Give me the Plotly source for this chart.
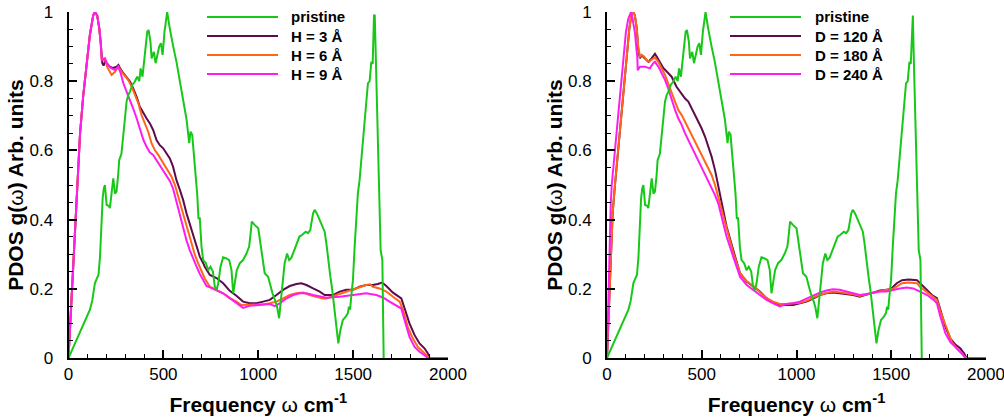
import plotly.graph_objects as go

# ---------------- data ----------------
pristine_f = [0, 20, 40, 60, 80, 100, 113, 125, 135, 139, 148, 158, 166, 172, 180, 186, 192, 201, 212, 218,
              226, 236, 245, 253, 262, 267, 279, 289, 297, 306, 315, 324, 337, 350, 362, 373, 380, 390, 397,
              403, 415, 422, 432, 438, 450, 459, 468, 478, 487, 496, 506, 520, 534, 544, 552, 569, 587, 604,
              622, 636, 643, 652, 666, 678, 685, 692, 701, 710, 724, 736, 748, 761, 771, 780, 789, 801, 815,
              832, 847, 859, 868, 877, 887, 903, 920, 938, 952, 959, 966, 982, 1000, 1009, 1022, 1034, 1052,
              1061, 1075, 1088, 1099, 1110, 1119, 1127, 1139, 1152, 1163, 1175, 1190, 1204, 1217, 1232, 1250,
              1262, 1274, 1289, 1297, 1309, 1323, 1337, 1350, 1359, 1367, 1373, 1380, 1390, 1399, 1411, 1422,
              1433, 1446, 1460, 1472, 1478, 1484, 1490, 1499, 1508, 1517, 1525, 1534, 1547, 1561, 1578, 1587,
              1596, 1603, 1610, 1614, 1620, 1627, 1636, 1645, 1654, 1657, 1661]
pristine_g = [0, 0.025, 0.05, 0.075, 0.1, 0.125, 0.14, 0.165, 0.2, 0.216, 0.228, 0.24, 0.292, 0.38, 0.462,
              0.49, 0.5, 0.442, 0.44, 0.433, 0.48, 0.519, 0.475, 0.481, 0.53, 0.572, 0.59, 0.66, 0.69, 0.741,
              0.76, 0.77, 0.79, 0.799, 0.813, 0.8, 0.837, 0.813, 0.85, 0.885, 0.943, 0.948, 0.914, 0.866, 0.885,
              0.852, 0.88, 0.9, 0.91, 0.876, 0.943, 1.0, 0.952, 0.92, 0.9, 0.856, 0.803, 0.746, 0.69, 0.621,
              0.654, 0.645, 0.565, 0.476, 0.404, 0.404, 0.322, 0.283, 0.274, 0.254, 0.264, 0.25, 0.206, 0.196,
              0.215, 0.264, 0.291, 0.288, 0.283, 0.254, 0.187, 0.215, 0.254, 0.274, 0.283, 0.302, 0.322, 0.356,
              0.394, 0.384, 0.375, 0.341, 0.283, 0.245, 0.235, 0.216, 0.187, 0.168, 0.148, 0.115, 0.168, 0.225,
              0.274, 0.302, 0.283, 0.29, 0.31, 0.331, 0.351, 0.356, 0.365, 0.361, 0.37, 0.418, 0.428, 0.418,
              0.399, 0.38, 0.365, 0.331, 0.29, 0.274, 0.235, 0.197, 0.148, 0.09, 0.042, 0.081, 0.11, 0.119,
              0.129, 0.148, 0.14, 0.177, 0.225, 0.322, 0.418, 0.476, 0.514, 0.6, 0.697, 0.794, 0.8, 0.856,
              0.85, 0.99, 0.99, 0.843, 0.697, 0.514, 0.312, 0.283, 0.129, 0.0]

# left panel : layer height H
h3_f = [0, 10, 20, 30, 43, 61, 78, 96, 113, 130, 139, 151, 162, 170, 178, 185, 192, 200, 210, 218, 235, 254,
        263, 272, 289, 307, 324, 341, 359, 376, 395, 411, 429, 446, 464, 481, 499, 516, 534, 551, 569, 587,
        604, 622, 640, 657, 675, 692, 710, 718, 745, 780, 815, 850, 885, 920, 955, 990, 1026, 1061, 1096,
        1131, 1166, 1201, 1227, 1254, 1289, 1324, 1350, 1394, 1429, 1464, 1499, 1534, 1569, 1604, 1630, 1653,
        1675, 1710, 1754, 1771, 1797, 1824, 1850, 1876, 1894, 1903, 2000]
h3_g = [0, 0.11, 0.23, 0.35, 0.49, 0.65, 0.76, 0.86, 0.935, 0.99, 1.0, 0.99, 0.953, 0.91, 0.852, 0.845, 0.856,
        0.852, 0.845, 0.842, 0.838, 0.842, 0.847, 0.837, 0.823, 0.811, 0.799, 0.779, 0.755, 0.726, 0.707,
        0.693, 0.678, 0.659, 0.63, 0.615, 0.606, 0.591, 0.577, 0.553, 0.514, 0.486, 0.457, 0.418, 0.385,
        0.351, 0.32, 0.293, 0.274, 0.264, 0.24, 0.231, 0.216, 0.194, 0.18, 0.163, 0.158, 0.158, 0.163, 0.168,
        0.182, 0.197, 0.208, 0.214, 0.216, 0.211, 0.201, 0.192, 0.182, 0.182, 0.192, 0.197, 0.197, 0.206,
        0.211, 0.211, 0.214, 0.218, 0.208, 0.189, 0.172, 0.143, 0.1, 0.066, 0.042, 0.028, 0.013, 0.0, 0.0]

h6_f = [0, 10, 20, 30, 43, 61, 78, 96, 113, 130, 139, 151, 162, 170, 175, 182, 192, 205, 218, 227, 245, 262,
        280, 298, 315, 333, 351, 368, 385, 404, 420, 438, 455, 473, 490, 508, 526, 543, 561, 578, 596, 613,
        630, 648, 665, 683, 700, 718, 745, 780, 815, 850, 885, 911, 935, 955, 990, 1026, 1061, 1096, 1131,
        1166, 1201, 1236, 1271, 1306, 1341, 1359, 1411, 1464, 1499, 1534, 1569, 1590, 1604, 1639, 1675, 1710,
        1745, 1763, 1788, 1815, 1841, 1868, 1894, 1900, 2000]
h6_g = [0, 0.11, 0.23, 0.35, 0.49, 0.65, 0.76, 0.86, 0.935, 0.99, 1.0, 0.99, 0.955, 0.91, 0.861, 0.866, 0.862,
        0.84, 0.825, 0.818, 0.827, 0.842, 0.827, 0.813, 0.803, 0.784, 0.76, 0.736, 0.702, 0.678, 0.654, 0.62,
        0.601, 0.587, 0.572, 0.558, 0.543, 0.524, 0.5, 0.466, 0.433, 0.399, 0.365, 0.331, 0.3, 0.274, 0.25,
        0.23, 0.206, 0.196, 0.187, 0.173, 0.163, 0.153, 0.153, 0.155, 0.155, 0.155, 0.158, 0.163, 0.172,
        0.182, 0.187, 0.189, 0.182, 0.177, 0.172, 0.172, 0.182, 0.192, 0.197, 0.206, 0.211, 0.213, 0.206,
        0.201, 0.192, 0.177, 0.163, 0.139, 0.09, 0.056, 0.032, 0.018, 0.004, 0.0, 0.0]

h9_f = [0, 10, 20, 30, 43, 61, 78, 96, 113, 130, 139, 151, 162, 170, 175, 185, 192, 205, 218, 227, 245, 262,
        275, 289, 307, 324, 341, 359, 376, 395, 411, 429, 446, 464, 481, 499, 516, 534, 551, 569, 586, 604,
        622, 639, 657, 675, 692, 710, 727, 745, 780, 815, 850, 885, 920, 955, 990, 1026, 1061, 1087, 1113,
        1148, 1184, 1219, 1254, 1289, 1324, 1359, 1429, 1499, 1569, 1622, 1657, 1692, 1727, 1754, 1771, 1797,
        1824, 1850, 1876, 1894, 2000]
h9_g = [0, 0.11, 0.23, 0.35, 0.49, 0.65, 0.76, 0.86, 0.935, 0.99, 1.0, 0.99, 0.955, 0.91, 0.862, 0.862, 0.866,
        0.85, 0.84, 0.837, 0.832, 0.842, 0.823, 0.794, 0.77, 0.746, 0.721, 0.693, 0.664, 0.63, 0.611, 0.594,
        0.587, 0.572, 0.558, 0.543, 0.529, 0.512, 0.49, 0.452, 0.41, 0.37, 0.34, 0.312, 0.285, 0.264, 0.243,
        0.225, 0.208, 0.204, 0.196, 0.187, 0.173, 0.158, 0.145, 0.151, 0.153, 0.155, 0.156, 0.15, 0.158,
        0.172, 0.182, 0.187, 0.187, 0.182, 0.177, 0.174, 0.177, 0.182, 0.187, 0.182, 0.175, 0.163, 0.151,
        0.143, 0.11, 0.061, 0.032, 0.018, 0.008, 0.0, 0.0]

# right panel : diameter D
d120_f = [0, 10, 20, 30, 42, 55, 68, 82, 95, 107, 118, 130, 139, 147, 157, 165, 174, 183, 200, 218, 235, 253,
          262, 280, 297, 315, 341, 367, 385, 412, 429, 447, 464, 482, 499, 517, 535, 552, 570, 587, 605, 631,
          666, 702, 737, 772, 807, 842, 877, 912, 947, 982, 1018, 1053, 1088, 1123, 1158, 1193, 1228, 1264,
          1299, 1334, 1369, 1404, 1440, 1475, 1501, 1529, 1557, 1592, 1636, 1652, 1689, 1715, 1741, 1759,
          1786, 1812, 1838, 1864, 1885, 1897, 2000]
d120_g = [0, 0.15, 0.3, 0.42, 0.5, 0.58, 0.654, 0.745, 0.827, 0.9, 0.953, 0.996, 1.0, 0.99, 0.953, 0.89,
          0.866, 0.875, 0.866, 0.856, 0.866, 0.879, 0.871, 0.852, 0.838, 0.828, 0.813, 0.784, 0.77, 0.75,
          0.741, 0.722, 0.702, 0.683, 0.664, 0.64, 0.611, 0.582, 0.543, 0.5, 0.455, 0.38, 0.312, 0.245, 0.221,
          0.206, 0.192, 0.173, 0.16, 0.153, 0.153, 0.153, 0.158, 0.163, 0.172, 0.182, 0.187, 0.189, 0.187,
          0.185, 0.182, 0.177, 0.182, 0.189, 0.195, 0.197, 0.201, 0.216, 0.225, 0.227, 0.225, 0.216, 0.197,
          0.182, 0.173, 0.139, 0.09, 0.056, 0.039, 0.028, 0.013, 0.0, 0.0]

d180_f = [0, 10, 20, 30, 42, 55, 68, 82, 95, 107, 118, 130, 139, 147, 157, 165, 170, 174, 183, 196, 209, 223,
          235, 253, 271, 288, 306, 323, 341, 359, 376, 394, 412, 429, 447, 464, 482, 499, 517, 535, 552, 570,
          587, 600, 631, 666, 702, 737, 772, 807, 842, 877, 912, 947, 982, 1018, 1053, 1088, 1123, 1158, 1193,
          1228, 1264, 1299, 1334, 1369, 1404, 1440, 1475, 1510, 1545, 1557, 1592, 1636, 1652, 1689, 1715, 1741,
          1759, 1795, 1820, 1850, 1875, 1890, 1895, 2000]
d180_g = [0, 0.15, 0.3, 0.42, 0.5, 0.58, 0.654, 0.745, 0.827, 0.9, 0.953, 0.996, 1.0, 0.99, 0.953, 0.9, 0.88,
          0.871, 0.875, 0.871, 0.861, 0.856, 0.862, 0.869, 0.856, 0.837, 0.818, 0.794, 0.77, 0.741, 0.717,
          0.702, 0.683, 0.664, 0.644, 0.625, 0.606, 0.587, 0.567, 0.548, 0.529, 0.5, 0.466, 0.44, 0.37, 0.305,
          0.245, 0.222, 0.208, 0.19, 0.173, 0.163, 0.156, 0.156, 0.157, 0.16, 0.165, 0.174, 0.183, 0.188,
          0.192, 0.19, 0.188, 0.184, 0.179, 0.184, 0.189, 0.194, 0.197, 0.2, 0.211, 0.216, 0.218, 0.216,
          0.206, 0.19, 0.178, 0.168, 0.135, 0.081, 0.046, 0.025, 0.012, 0.003, 0.0, 0.0]

d240_f = [0, 5, 12, 20, 25, 38, 51, 65, 78, 90, 100, 112, 121, 127, 135, 148, 156, 160, 162, 174, 200, 226,
          244, 253, 271, 288, 306, 323, 341, 359, 376, 394, 412, 429, 447, 464, 482, 499, 517, 535, 552, 570,
          587, 600, 631, 666, 702, 737, 772, 807, 842, 877, 912, 947, 982, 1018, 1053, 1088, 1123, 1158, 1193,
          1228, 1264, 1299, 1334, 1369, 1404, 1440, 1475, 1510, 1545, 1581, 1616, 1652, 1689, 1724, 1741, 1759,
          1786, 1812, 1847, 1874, 1890, 2000]
d240_g = [0, 0.12, 0.3, 0.45, 0.5, 0.58, 0.654, 0.74, 0.827, 0.9, 0.943, 0.98, 0.996, 1.0, 0.98, 0.938, 0.89,
          0.87, 0.832, 0.842, 0.842, 0.837, 0.852, 0.856, 0.842, 0.823, 0.804, 0.779, 0.746, 0.717, 0.693,
          0.674, 0.649, 0.63, 0.611, 0.591, 0.572, 0.553, 0.534, 0.514, 0.495, 0.471, 0.447, 0.418, 0.351,
          0.293, 0.235, 0.211, 0.197, 0.182, 0.168, 0.158, 0.149, 0.156, 0.158, 0.163, 0.172, 0.179, 0.189,
          0.195, 0.199, 0.197, 0.192, 0.189, 0.182, 0.185, 0.189, 0.192, 0.192, 0.197, 0.201, 0.204, 0.201,
          0.192, 0.182, 0.168, 0.158, 0.12, 0.071, 0.046, 0.027, 0.013, 0.0, 0.0]

left_names = ["pristine", "H = 3 Å", "H = 6 Å", "H = 9 Å"]
right_names = ["pristine", "D = 120 Å", "D = 180 Å", "D = 240 Å"]
colors = ["#18c818", "#5c0c4c", "#ff661a", "#ff1cf0"]

x_ticks = [0, 500, 1000, 1500, 2000]
y_ticks = [0, 0.2, 0.4, 0.6, 0.8, 1]
y_tick_text = ["0", "0.2", "0.4", "0.6", "0.8", "1"]

# ---------------- geometry helpers ----------------
W, H, OFF = 1004, 417, 0


def px(X):
    return (X - OFF) / W


def py(Y):
    return 1 - (Y - OFF) / H


# ---------------- figure ----------------
fig = go.Figure()
left_series = [(pristine_f, pristine_g), (h3_f, h3_g), (h6_f, h6_g), (h9_f, h9_g)]
right_series = [(pristine_f, pristine_g), (d120_f, d120_g), (d180_f, d180_g), (d240_f, d240_g)]

draw_order = [1, 2, 3, 0]  # pristine drawn on top
for i in draw_order:
    fx, gy = left_series[i]
    fig.add_trace(go.Scatter(x=fx, y=gy, mode="lines", name=left_names[i],
                             line=dict(color=colors[i], width=2), xaxis="x", yaxis="y", showlegend=False))
for i in draw_order:
    fx, gy = right_series[i]
    fig.add_trace(go.Scatter(x=fx, y=gy, mode="lines", name=right_names[i],
                             line=dict(color=colors[i], width=2), xaxis="x2", yaxis="y2", showlegend=False))

FONT = "Liberation Sans, Arial, sans-serif"
tickfont = dict(family=FONT, size=17, color="black")
titlefont = dict(family=FONT, size=21, color="black")


def xax(domain, anchor):
    return dict(domain=domain, anchor=anchor, range=[0, 2000], tickvals=x_ticks, automargin=False,
                showline=True, linecolor="black", linewidth=2, mirror=False,
                ticks="inside", ticklen=8, tickwidth=1.5, tickcolor="black",
                minor=dict(tickvals=[v for v in range(0, 2001, 100)], ticks="inside", ticklen=4,
                           tickwidth=1, tickcolor="black"),
                showgrid=False, zeroline=False, tickfont=tickfont, ticklabelstandoff=0,
                ticklabeloverflow="allow",
                title=dict(text="<b>Frequency </b>ω<b> cm<sup>-1</sup></b>", font=titlefont, standoff=14))


def yax(domain, anchor):
    return dict(domain=domain, anchor=anchor, range=[0, 1], tickvals=y_ticks, ticktext=y_tick_text,
                automargin=False,
                showline=True, linecolor="black", linewidth=2, mirror=False,
                ticks="inside", ticklen=8, tickwidth=1.5, tickcolor="black",
                minor=dict(tickvals=[i * 0.05 for i in range(21)], ticks="inside", ticklen=4,
                           tickwidth=1, tickcolor="black"),
                showgrid=False, zeroline=False, tickfont=tickfont, ticklabelstandoff=10,
                ticklabeloverflow="allow",
                title=dict(text="<b>PDOS g(</b>ω<b>) Arb. units</b>", font=titlefont, standoff=0))


ydom = [py(358), py(12)]

# manual legends (line samples + labels)
shapes, annotations = [], []
legend_rows = [17, 36, 55, 74]
for names, (lx0, lx1, tx) in [(left_names, (207, 278, 289)), (right_names, (730, 801, 813))]:
    for name, c, ry in zip(names, colors, legend_rows):
        shapes.append(dict(type="line", xref="paper", yref="paper", x0=px(lx0), x1=px(lx1),
                           y0=py(ry), y1=py(ry), line=dict(color=c, width=2)))
        annotations.append(dict(text="<b>%s</b>" % name, xref="paper", yref="paper", x=px(tx), y=py(ry),
                                xanchor="left", yanchor="middle", showarrow=False,
                                font=dict(family=FONT, size=15, color="black")))

fig.update_layout(
    width=W, height=H,
    margin=dict(l=0, r=0, t=0, b=0, autoexpand=False),
    paper_bgcolor="white", plot_bgcolor="white",
    xaxis=xax([px(68.5), px(448)], "y"),
    yaxis=yax(ydom, "x"),
    xaxis2=xax([px(607), px(986)], "y2"),
    yaxis2=yax(ydom, "x2"),
    shapes=shapes, annotations=annotations,
    showlegend=False,
)

fig.write_html("out.html", config={"displayModeBar": False},
               post_script="document.body.style.margin='0';document.body.style.overflow='hidden';")
